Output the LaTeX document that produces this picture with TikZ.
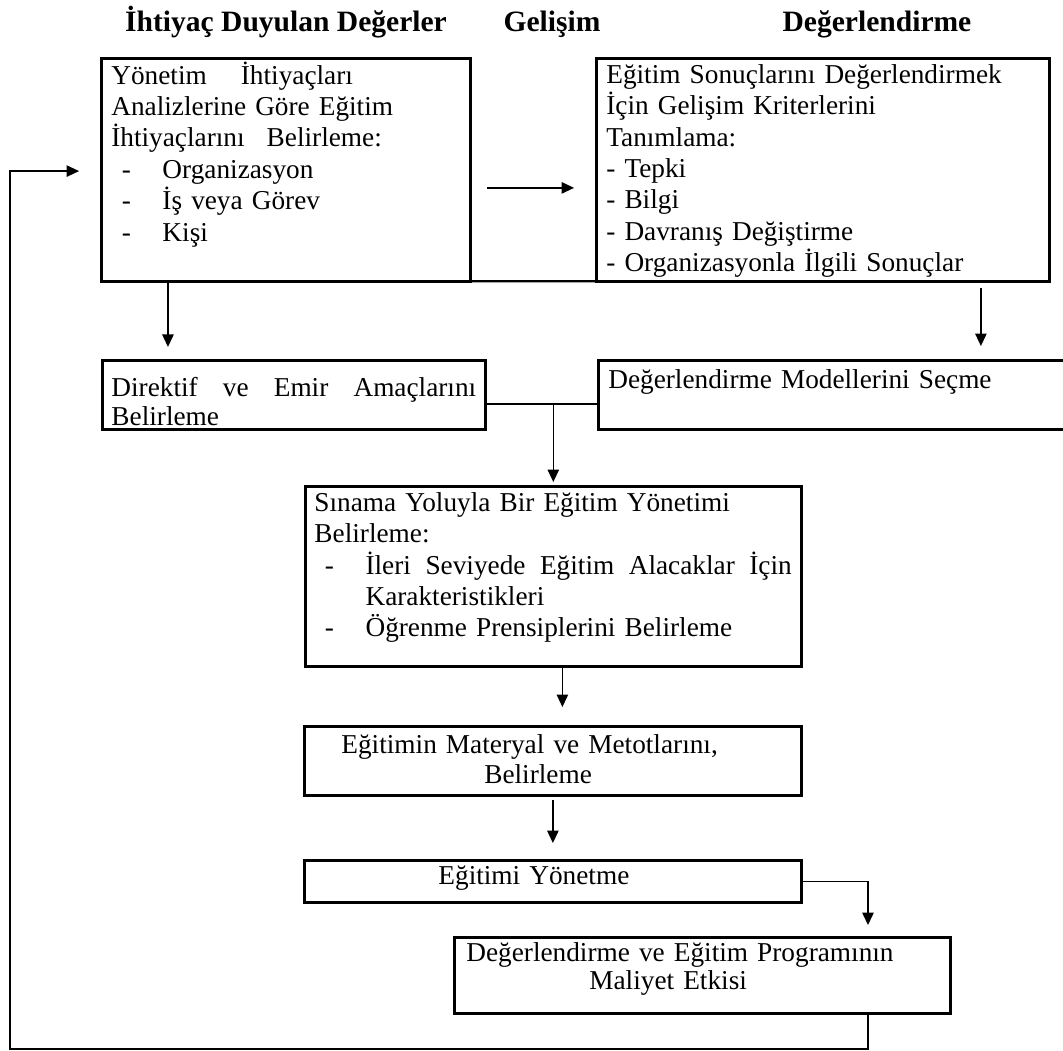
\documentclass[tikz,border=0pt]{standalone}
\usepackage{fontspec}
\setmainfont{Liberation Serif}
\usetikzlibrary{positioning,arrows.meta}

\newcommand{\madde}{\makebox[22.5pt][l]{\hspace*{4.6pt}-}}

\begin{document}
\begin{tikzpicture}[
  x=0.44pt, y=-0.44pt,
  box/.style={
    draw,
    line width=1.2pt,
    anchor=north west,
    inner xsep=4.4pt,
    inner ysep=0pt,
    align=left,
    font=\fontsize{12}{13.8}\selectfont
  },
  head/.style={font=\fontsize{13}{15}\selectfont\bfseries, anchor=base},
  arrow/.style={-{Triangle[length=5.5pt,width=5pt]}, line width=0.7pt},
  link/.style={line width=0.7pt}
]
\useasboundingbox (0,0) rectangle (1063,1051);

% Başlıklar
\node[head] (h1) at (286,32) {İhtiyaç Duyulan Değerler};
\node[head] (h2) at (552,32) {Gelişim};
\node[head] (h3) at (877,32) {Değerlendirme};

% Üst kutular
\node[box, text width=153.6pt, text height=11.4pt, text depth=86.7pt] (needs) at (100,57)
  {Yönetim\hspace{15pt}İhtiyaçları\\
   Analizlerine Göre Eğitim\\
   İhtiyaçlarını\hspace{9.7pt}Belirleme:\\
   \madde Organizasyon\\
   \madde İş veya Görev\\
   \madde Kişi};
\node[box, text width=190.5pt, text height=11pt, text depth=87.1pt] (crit) at (595,57)
  {Eğitim Sonuçlarını Değerlendirmek\\
   İçin Gelişim Kriterlerini\\
   Tanımlama:\\
   - Tepki\\
   - Bilgi\\
   - Davranış Değiştirme\\
   - Organizasyonla İlgili Sonuçlar};

% Orta kutular
\node[box, inner xsep=4pt, text width=160.5pt, text height=15.9pt, text depth=14.5pt] (goal) at (101,359)
  {\hbox to 160.5pt{Direktif\hfill ve\hfill Emir\hfill Amaçlarını}\\[-1.2pt]Belirleme};
\node[box, text width=199.3pt, text height=12.3pt, text depth=18pt] (model) at (597,359)
  {Değerlendirme Modellerini Seçme};
\node[box, inner xsep=4pt, text width=210.2pt, text height=11pt, text depth=68.2pt] (trial) at (304,485)
  {Sınama Yoluyla Bir Eğitim Yönetimi\\
   Belirleme:\\
   \madde\hbox to 187.5pt{İleri\hfill Seviyede\hfill Eğitim\hfill Alacaklar\hfill İçin}\\
   \hspace*{22.5pt}Karakteristikleri\\
   \madde Öğrenme Prensiplerini Belirleme};

% Alt kutular
\node[box, text width=209.9pt, text height=11.9pt, text depth=18.5pt] (mat) at (303,725)
  {\hspace*{11.9pt}Eğitimin Materyal ve Metotlarını,\\[-0.6pt]\hspace*{74.8pt}Belirleme};
\node[box, text width=209.9pt, text height=10.6pt, text depth=7.9pt] (run) at (303,859)
  {\hspace*{54.6pt}Eğitimi Yönetme};
\node[box, text width=209.4pt, text height=10.6pt, text depth=22.9pt] (eval) at (453,936)
  {\hspace*{0.9pt}Değerlendirme ve Eğitim Programının\\[-1.5pt]\hspace*{55pt}Maliyet Etkisi};

% Oklar
\coordinate (n1) at ([xshift=29.9pt]needs.south west);
\draw[arrow, shorten >=5.3pt] (n1) -- (n1 |- goal.north);
\coordinate (c1) at ([xshift=169.8pt]crit.south west);
\draw[arrow, shorten <=2.2pt, shorten >=5.7pt] (c1) -- (c1 |- model.north);
\coordinate (n2) at ([yshift=-57.6pt]needs.north east);
\draw[arrow, shorten <=6.6pt, shorten >=9.2pt] (n2) -- (n2 -| crit.west);
\draw[line width=1pt] ([yshift=0.6pt]needs.south east) -- ([yshift=0.6pt]crit.south west);

\coordinate (g1) at ([yshift=-19.8pt]goal.north east);
\draw[link] (g1) -- (g1 -| model.west);
\draw[arrow, shorten >=1.3pt] (trial.north |- g1) -- (trial.north);

\coordinate (t1) at ([xshift=4pt]trial.south);
\draw[arrow, shorten >=7.9pt] (t1) -- (t1 |- mat.north);
\draw[arrow, shorten <=1.3pt, shorten >=7pt] (mat.south) -- (run.north);

\coordinate (e1) at ([xshift=182.6pt]eval.north west);
\draw[arrow, shorten >=4.8pt] (run.east) -| (e1);

% Geri besleme
\coordinate (e2) at ([xshift=182.6pt]eval.south west);
\coordinate (loop) at (10,1049);
\coordinate (n3) at ([yshift=-50.2pt]needs.north west);
\draw[arrow, line width=0.6pt, shorten >=9.2pt] (e2) |- (loop) |- (n3);
\end{tikzpicture}
\end{document}
